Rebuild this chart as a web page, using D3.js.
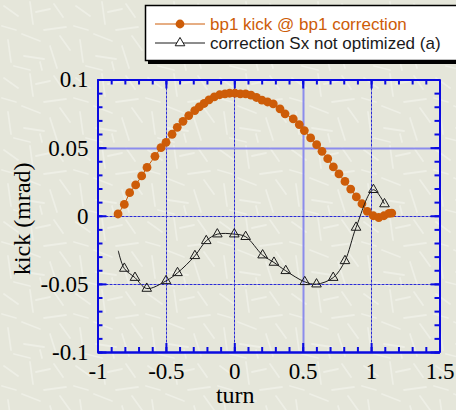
<!DOCTYPE html>
<html>
<head>
<meta charset="utf-8">
<script src="https://cdn.jsdelivr.net/npm/d3@7"></script>
<style>
  html, body { margin: 0; padding: 0; background: #e6e6db; }
  svg { display: block; }
</style>
</head>
<body>
<svg id="chart" width="456" height="410"></svg>
<script>
// bp1 kick with the bp1 correction applied
const bp1Turn = [-0.85, -0.804, -0.765, -0.721, -0.677, -0.638, -0.58, -0.536, -0.499, -0.455,
  -0.417, -0.375, -0.333, -0.289, -0.256, -0.221, -0.185, -0.146, -0.107, -0.068,
  -0.034, 0.005, 0.044, 0.083, 0.122, 0.162, 0.202, 0.243, 0.285, 0.334,
  0.371, 0.431, 0.475, 0.512, 0.558, 0.602, 0.641, 0.683, 0.724, 0.765,
  0.809, 0.851, 0.892, 0.933, 0.972, 1.016, 1.056, 1.094, 1.131, 1.151];
const bp1Kick = [0.0013, 0.0083, 0.0169, 0.0226, 0.0292, 0.0355, 0.0436, 0.05, 0.0539, 0.0598,
  0.0649, 0.0693, 0.0735, 0.0772, 0.0799, 0.0824, 0.0851, 0.0873, 0.0888, 0.0895,
  0.0899, 0.0899, 0.0895, 0.0895, 0.0885, 0.0868, 0.0849, 0.0835, 0.0821, 0.0785,
  0.0748, 0.0711, 0.0669, 0.0625, 0.0571, 0.0522, 0.0473, 0.0419, 0.0358, 0.0307,
  0.0252, 0.0196, 0.0138, 0.0088, 0.0032, 0.0, -0.0013, 0.0, 0.0017, 0.002];

// correction Sx not optimized (a); the first point carries no marker
const sxTurn = [-0.848, -0.804, -0.726, -0.64, -0.499, -0.415, -0.288, -0.205, -0.124, 0.0,
  0.083, 0.207, 0.29, 0.376, 0.515, 0.601, 0.723, 0.809, 0.89, 1.017, 1.098];
const sxKick = [-0.0257, -0.0387, -0.0454, -0.0534, -0.0478, -0.0419, -0.0294, -0.0184, -0.0135, -0.0135,
  -0.0154, -0.0289, -0.0343, -0.0404, -0.0485, -0.0502, -0.0454, -0.0331, -0.0086, 0.0191, 0.0086];
const sxMarked = sxTurn.map((_, i) => i > 0);

const xTicks = [-1, -0.5, 0, 0.5, 1, 1.5];
const xTickLabels = ["-1", "-0.5", "0", "0.5", "1", "1.5"];
const yTicks = [-0.1, -0.05, 0, 0.05, 0.1];
const yTickLabels = ["-0.1", "-0.05", "0", "0.05", "0.1"];
const xGrid = [-0.5, 0, 0.5, 1];
const yGrid = [-0.05, 0, 0.05];
const seriesNames = ["bp1 kick @ bp1 correction", "correction Sx not optimized (a)"];

const W = 456, H = 410;
const plotL = 97.5, plotR = 439.5, plotT = 79.5, plotB = 352;
const orange = "#cd5c08";
const frameBlue = "#0a0ae0";

const svg = d3.select("#chart");

// paper texture: faint pale fibres on a warm grey ground
const defs = svg.append("defs");
const pat = defs.append("pattern").attr("id", "paper")
  .attr("width", 72).attr("height", 72).attr("patternUnits", "userSpaceOnUse");
pat.append("rect").attr("width", 72).attr("height", 72).attr("fill", "#e5e6da");
const streaks = [[4, 6, 18, 16], [30, 2, 33, 24], [44, 30, 66, 27], [8, 40, 11, 62], [22, 34, 40, 41],
  [50, 46, 57, 68], [24, 56, 44, 59], [54, 4, 63, 17], [2, 26, 16, 30], [36, 12, 50, 9],
  [60, 36, 70, 50], [14, 66, 30, 70], [40, 62, 42, 70]];
pat.selectAll("line").data(streaks).join("line")
  .attr("x1", d => d[0]).attr("y1", d => d[1]).attr("x2", d => d[2]).attr("y2", d => d[3])
  .attr("stroke", "#eeefe6").attr("stroke-width", 1.8).attr("stroke-linecap", "round");
svg.append("rect").attr("width", W).attr("height", H).attr("fill", "url(#paper)");

const x = d3.scaleLinear().domain([-1, 1.5]).range([plotL, plotR]);
const y = d3.scaleLinear().domain([-0.1, 0.1]).range([plotB, plotT]);

// grid
const lightX = v => v === 0.5, lightY = v => v === 0.05;
const grid = svg.append("g");
grid.selectAll("line.gx").data(xGrid).join("line").attr("class", "gx")
  .attr("x1", d => Math.round(x(d)) + 0.5).attr("x2", d => Math.round(x(d)) + 0.5)
  .attr("y1", plotT).attr("y2", plotB)
  .attr("stroke", d => lightX(d) ? "#8c8cec" : "#2a2ad6")
  .attr("stroke-width", d => lightX(d) ? 2 : 1)
  .attr("stroke-dasharray", d => lightX(d) ? null : "3,1");
grid.selectAll("line.gy").data(yGrid).join("line").attr("class", "gy")
  .attr("y1", d => Math.round(y(d)) + 0.5).attr("y2", d => Math.round(y(d)) + 0.5)
  .attr("x1", plotL).attr("x2", plotR)
  .attr("stroke", d => lightY(d) ? "#8c8cec" : "#2a2ad6")
  .attr("stroke-width", d => lightY(d) ? 2 : 1)
  .attr("stroke-dasharray", d => lightY(d) ? null : "3,1");

// axes: minor and major ticks on all four sides, pointing inward
const fmtX = d => xTickLabels[xTicks.indexOf(d)];
const fmtY = d => yTickLabels[yTicks.findIndex(t => Math.abs(t - d) < 1e-9)];
const xMinor = d3.range(-10, 16).map(i => i / 10);
const yMinor = d3.range(-10, 11).map(i => i / 100);

function styleAxis(g) {
  g.selectAll(".domain").attr("stroke", frameBlue).attr("stroke-width", 2);
  g.selectAll(".tick line").attr("stroke", frameBlue).attr("stroke-width", 2);
  g.selectAll(".tick text").attr("fill", "#000")
    .attr("font-family", "'Liberation Serif', 'Times New Roman', serif").attr("font-size", 23);
}

svg.append("g").attr("transform", `translate(0,${plotB})`)
  .call(d3.axisBottom(x).tickValues(xMinor).tickSize(-5).tickSizeOuter(0).tickFormat(""))
  .call(styleAxis);
svg.append("g").attr("transform", `translate(0,${plotB})`)
  .call(d3.axisBottom(x).tickValues(xTicks).tickSize(-9).tickSizeOuter(0).tickPadding(11).tickFormat(fmtX))
  .call(styleAxis);
svg.append("g").attr("transform", `translate(0,${plotT})`)
  .call(d3.axisTop(x).tickValues(xMinor).tickSize(-5).tickSizeOuter(0).tickFormat(""))
  .call(styleAxis);
svg.append("g").attr("transform", `translate(0,${plotT})`)
  .call(d3.axisTop(x).tickValues(xTicks).tickSize(-9).tickSizeOuter(0).tickFormat(""))
  .call(styleAxis);
svg.append("g").attr("transform", `translate(${plotL},0)`)
  .call(d3.axisLeft(y).tickValues(yMinor).tickSize(-5).tickSizeOuter(0).tickFormat(""))
  .call(styleAxis);
svg.append("g").attr("transform", `translate(${plotL},0)`)
  .call(d3.axisLeft(y).tickValues(yTicks).tickSize(-9).tickSizeOuter(0).tickPadding(9).tickFormat(fmtY))
  .call(styleAxis);
svg.append("g").attr("transform", `translate(${plotR},0)`)
  .call(d3.axisRight(y).tickValues(yMinor).tickSize(-5).tickSizeOuter(0).tickFormat(""))
  .call(styleAxis);
svg.append("g").attr("transform", `translate(${plotR},0)`)
  .call(d3.axisRight(y).tickValues(yTicks).tickSize(-9).tickSizeOuter(0).tickFormat(""))
  .call(styleAxis);

// axis titles
svg.append("text").attr("x", x(0) + 1).attr("y", 403)
  .attr("text-anchor", "middle").attr("font-family", "'Liberation Serif', 'Times New Roman', serif")
  .attr("font-size", 24).text("turn");
svg.append("text").attr("transform", `translate(30,${(plotT + plotB) / 2 + 3}) rotate(-90)`)
  .attr("text-anchor", "middle").attr("font-family", "'Liberation Serif', 'Times New Roman', serif")
  .attr("font-size", 24).text("kick (mrad)");

// series 1: orange line with filled circles
const bp1 = bp1Turn.map((t, i) => ({ t, k: bp1Kick[i] }));
svg.append("path").datum(bp1)
  .attr("d", d3.line().x(d => x(d.t)).y(d => y(d.k)))
  .attr("fill", "none").attr("stroke", orange).attr("stroke-width", 1);
svg.append("g").selectAll("circle").data(bp1).join("circle")
  .attr("cx", d => x(d.t)).attr("cy", d => y(d.k)).attr("r", 4.4).attr("fill", orange);

// series 2: thin black smooth curve with open triangles
const sx = sxTurn.map((t, i) => ({ t, k: sxKick[i], m: sxMarked[i] }));
svg.append("path").datum(sx)
  .attr("d", d3.line().x(d => x(d.t)).y(d => y(d.k)).curve(d3.curveCatmullRom.alpha(0.5)))
  .attr("fill", "none").attr("stroke", "#1a1a1a").attr("stroke-width", 1);
const tri = d3.symbol().type(d3.symbolTriangle).size(40);
svg.append("g").selectAll("path").data(sx.filter(d => d.m)).join("path")
  .attr("transform", d => `translate(${x(d.t)},${y(d.k)})`)
  .attr("d", tri).attr("fill", "none").attr("stroke", "#1a1a1a").attr("stroke-width", 1);

// legend box with drop shadow
const lg = svg.append("g");
lg.append("rect").attr("x", 148).attr("y", 8).attr("width", 330).attr("height", 56).attr("fill", "#000");
lg.append("rect").attr("x", 145.5).attr("y", 5.5).attr("width", 330).attr("height", 55)
  .attr("fill", "#fff").attr("stroke", "#000").attr("stroke-width", 1.5);
const legendRows = [
  { name: seriesNames[0], color: orange, y: 24 },
  { name: seriesNames[1], color: "#1a1a1a", y: 43 }
];
legendRows.forEach((r, i) => {
  lg.append("line").attr("x1", 155).attr("x2", 205).attr("y1", r.y).attr("y2", r.y)
    .attr("stroke", r.color).attr("stroke-width", 1);
  if (i === 0) {
    lg.append("circle").attr("cx", 180).attr("cy", r.y).attr("r", 4.4).attr("fill", orange);
  } else {
    lg.append("path").attr("transform", `translate(180,${r.y})`).attr("d", tri)
      .attr("fill", "#fff").attr("stroke", "#1a1a1a").attr("stroke-width", 1);
  }
  lg.append("text").attr("x", 210).attr("y", r.y + 6)
    .attr("font-family", "'Liberation Sans', Arial, sans-serif").attr("font-size", 17)
    .attr("fill", i === 0 ? orange : "#1a1a1a").text(r.name);
});
</script>
</body>
</html>
